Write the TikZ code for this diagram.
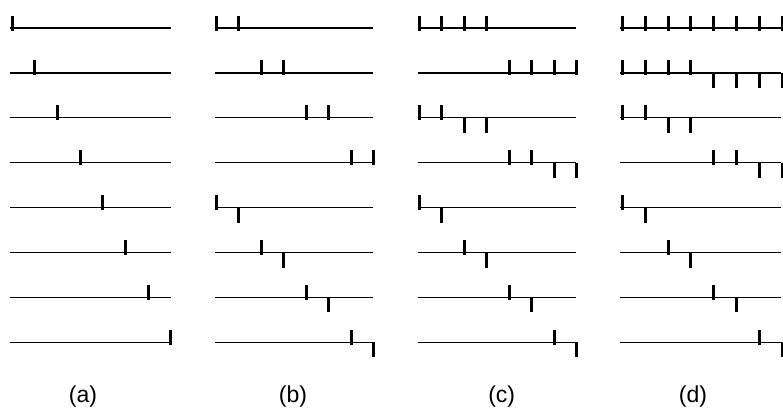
\documentclass[tikz,border=0pt]{standalone}
\usepackage{fontspec}
\setmainfont{Liberation Sans}
\tikzset{
  baseln/.style={line width=1.2pt, black},
  tk/.style={line width=3pt, black, line cap=butt},
  lbl/.style={anchor=base, inner sep=0pt, font=\fontsize{23}{27}\selectfont}
}
\newcommand\BL[3]{\draw[baseln] (#1,#3) -- (#2,#3);}
\newcommand\UP[2]{\draw[tk] (#1,#2+2.5) -- (#1,#2-12.5);}
\newcommand\DN[2]{\draw[tk] (#1,#2) -- (#1,#2+15);}
\begin{document}
\begin{tikzpicture}[x=1pt,y=-1pt]
\useasboundingbox (0,0) rectangle (783,408);
% row y positions
\def\ra{28}\def\rb{72.9}\def\rc{117.8}\def\rd{162.7}
\def\re{207.6}\def\rf{252.5}\def\rg{297.4}\def\rh{342.3}
% ---------------- panel (a)
\foreach \y in {\ra,\rb,\rc,\rd,\re,\rf,\rg,\rh} {\BL{10}{171}{\y}}
\UP{12}{\ra}
\UP{34.7}{\rb}
\UP{57.4}{\rc}
\UP{80.1}{\rd}
\UP{102.8}{\re}
\UP{125.5}{\rf}
\UP{148.2}{\rg}
\UP{170.9}{\rh}
% ---------------- panel (b)
\foreach \y in {\ra,\rb,\rc,\rd,\re,\rf,\rg,\rh} {\BL{215}{373}{\y}}
\UP{216.3}{\ra}\UP{238.8}{\ra}
\UP{261.3}{\rb}\UP{283.8}{\rb}
\UP{306.3}{\rc}\UP{328.8}{\rc}
\UP{351.3}{\rd}\UP{373.8}{\rd}
\UP{216.3}{\re}\DN{238.8}{\re}
\UP{261.3}{\rf}\DN{283.8}{\rf}
\UP{306.3}{\rg}\DN{328.8}{\rg}
\UP{351.3}{\rh}\DN{373.8}{\rh}
% ---------------- panel (c)
\foreach \y in {\ra,\rb,\rc,\rd,\re,\rf,\rg,\rh} {\BL{418}{576}{\y}}
\foreach \x in {419.3,441.8,464.2,486.7} {\UP{\x}{\ra}}
\foreach \x in {509.2,531.7,554.1,576.6} {\UP{\x}{\rb}}
\UP{419.3}{\rc}\UP{441.8}{\rc}\DN{464.2}{\rc}\DN{486.7}{\rc}
\UP{509.2}{\rd}\UP{531.7}{\rd}\DN{554.1}{\rd}\DN{576.6}{\rd}
\UP{419.3}{\re}\DN{441.8}{\re}
\UP{464.2}{\rf}\DN{486.7}{\rf}
\UP{509.2}{\rg}\DN{531.7}{\rg}
\UP{554.1}{\rh}\DN{576.6}{\rh}
% ---------------- panel (d)
\foreach \y in {\ra,\rb,\rc,\rd,\re,\rf,\rg,\rh} {\BL{620}{781}{\y}}
\foreach \x in {622.3,645.2,668,690.9,713.7,736.6,759.5,782.3} {\UP{\x}{\ra}}
\foreach \x in {622.3,645.2,668,690.9} {\UP{\x}{\rb}}
\foreach \x in {713.7,736.6,759.5,782.3} {\DN{\x}{\rb}}
\UP{622.3}{\rc}\UP{645.2}{\rc}\DN{668}{\rc}\DN{690.9}{\rc}
\UP{713.7}{\rd}\UP{736.6}{\rd}\DN{759.5}{\rd}\DN{782.3}{\rd}
\UP{622.3}{\re}\DN{645.2}{\re}
\UP{668}{\rf}\DN{690.9}{\rf}
\UP{713.7}{\rg}\DN{736.6}{\rg}
\UP{759.5}{\rh}\DN{782.3}{\rh}
% ---------------- labels
\node[lbl] (la) at (83,402) {(a)};
\node[lbl] (lb) at (293,402) {(b)};
\node[lbl] (lc) at (501.7,402) {(c)};
\node[lbl] (ld) at (693,402) {(d)};
\end{tikzpicture}
\end{document}
